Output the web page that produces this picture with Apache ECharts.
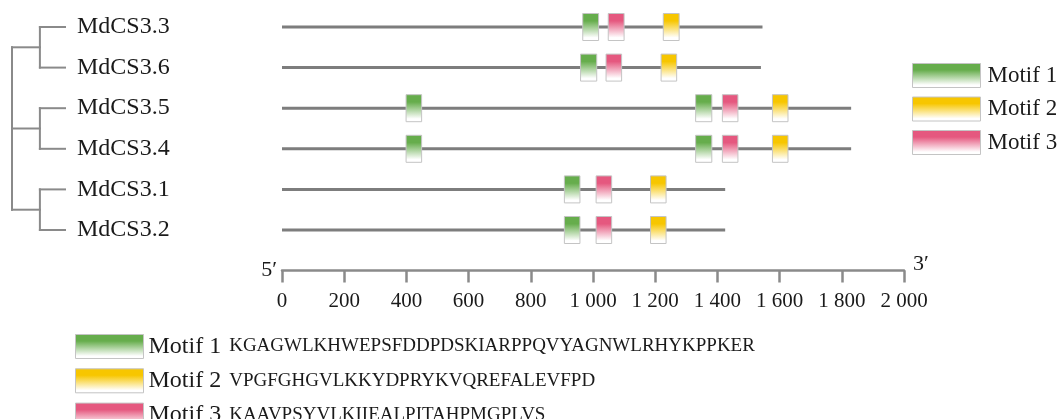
<!DOCTYPE html>
<html>
<head>
<meta charset="utf-8">
<script src="https://cdn.jsdelivr.net/npm/echarts@6/dist/echarts.min.js"></script>
<style>
html,body{margin:0;padding:0;background:#fff;}
#c{width:1062px;height:419px;}
</style>
</head>
<body>
<div id="c"></div>
<script>
// ---------- data ----------
const genes = ['MdCS3.3', 'MdCS3.6', 'MdCS3.5', 'MdCS3.4', 'MdCS3.1', 'MdCS3.2'];
const geneLengths = [1545, 1540, 1830, 1830, 1425, 1425];
// [start, end, row]
const motif1Sites = [[967, 1018, 0], [960, 1012, 1], [399, 449, 2], [1330, 1382, 2], [399, 449, 3], [1330, 1382, 3], [908, 958, 4], [908, 958, 5]];
const motif2Sites = [[1226, 1277, 0], [1219, 1269, 1], [1577, 1627, 2], [1577, 1627, 3], [1185, 1235, 4], [1185, 1235, 5]];
const motif3Sites = [[1049, 1100, 0], [1042, 1092, 1], [1416, 1466, 2], [1416, 1466, 3], [1010, 1060, 4], [1010, 1060, 5]];
const motifNames = ['Motif 1', 'Motif 2', 'Motif 3'];
const motifSeqs = ['KGAGWLKHWEPSFDDPDSKIARPPQVYAGNWLRHYKPPKER', 'VPGFGHGVLKKYDPRYKVQREFALEVFPD', 'KAAVPSYVLKIIEALPITAHPMGPLVS'];
const xTickLabels = ['0', '200', '400', '600', '800', '1 000', '1 200', '1 400', '1 600', '1 800', '2 000'];
// tree: clades of leaf rows, joined at the root
const treeClades = [[0, 1], [2, 3], [4, 5]];
const treeRootDepth = 0, treeNodeDepth = 1, treeLeafDepth = 1.9;

// ---------- styles ----------
const FONT = '"Liberation Serif", "Times New Roman", serif';
const motifColors = ['#66ad4c', '#f7c600', '#e5587f'];
function grad(c) {
  return new echarts.graphic.LinearGradient(0, 0, 0, 1, [
    { offset: 0, color: c }, { offset: 0.28, color: c }, { offset: 0.88, color: '#ffffff' }, { offset: 1, color: '#ffffff' }
  ]);
}

// tree segments (data coordinates)
const treeSegs = [];
const cladeY = [];
treeClades.forEach(rows => {
  const y = rows.reduce((a, b) => a + b, 0) / rows.length;
  cladeY.push(y);
  treeSegs.push([treeNodeDepth, Math.min(...rows), treeNodeDepth, Math.max(...rows)]);
  rows.forEach(r => treeSegs.push([treeNodeDepth, r, treeLeafDepth, r]));
});
treeSegs.push([treeRootDepth, Math.min(...cladeY), treeRootDepth, Math.max(...cladeY)]);
cladeY.forEach(y => treeSegs.push([treeRootDepth, y, treeNodeDepth, y]));

const chart = echarts.init(document.getElementById('c'), null, { renderer: 'canvas' });

function motifSeries(idx, sites) {
  return {
    name: motifNames[idx], type: 'custom', xAxisIndex: 0, yAxisIndex: 0,
    itemStyle: { color: grad(motifColors[idx]) },
    data: sites,
    renderItem: (params, api) => {
      const p1 = api.coord([api.value(0), api.value(2)]);
      const p2 = api.coord([api.value(1), api.value(2)]);
      return {
        type: 'rect',
        shape: { x: p1[0], y: p1[1] - 13.5, width: p2[0] - p1[0], height: 27 },
        style: { fill: grad(motifColors[idx]), stroke: '#c4c4c4', lineWidth: 1 }
      };
    }
  };
}

const grids = [
  { left: 282, width: 622, top: 27, height: 243.6, outerBoundsMode: 'none' },
  { left: 12, width: 53, top: 27, height: 243.6, outerBoundsMode: 'none' },
  { left: 282, width: 622, top: 27, height: 243.6, outerBoundsMode: 'none' }
];

const option = {
  animation: false,
  backgroundColor: '#ffffff',
  grid: grids,
  xAxis: [
    {
      gridIndex: 0, type: 'value', min: 0, max: 2000, interval: 200, position: 'bottom',
      axisLine: { show: true, onZero: false, lineStyle: { color: '#8a8a8a', width: 2.5 } },
      axisTick: { show: true, length: 12, lineStyle: { color: '#8a8a8a', width: 2.5 } },
      splitLine: { show: false },
      axisLabel: {
        margin: 20, color: '#1a1a1a', fontSize: 21, fontFamily: FONT,
        formatter: v => xTickLabels[Math.round(v / 200)]
      },
      name: '5\u2032', nameLocation: 'start', nameGap: 5,
      nameTextStyle: { color: '#1a1a1a', fontSize: 22, fontFamily: FONT, verticalAlign: 'middle' }
    },
    {
      gridIndex: 1, type: 'value', min: treeRootDepth, max: treeLeafDepth, show: false
    },
    {
      gridIndex: 2, type: 'value', min: 0, max: 2000, position: 'bottom',
      axisLine: { show: false, onZero: false }, axisTick: { show: false }, axisLabel: { show: false }, splitLine: { show: false },
      name: '3\u2032', nameLocation: 'end', nameGap: 9,
      nameTextStyle: { color: '#1a1a1a', fontSize: 22, fontFamily: FONT, verticalAlign: 'bottom', lineHeight: 12 }
    }
  ],
  yAxis: [
    { gridIndex: 0, type: 'value', min: 0, max: 6, inverse: true, show: false },
    {
      gridIndex: 1, type: 'value', min: 0, max: 6, interval: 1, inverse: true, position: 'right',
      axisLine: { show: false, onZero: false }, axisTick: { show: false }, splitLine: { show: false },
      axisLabel: {
        margin: 12, color: '#1a1a1a', fontSize: 24, fontFamily: FONT, align: 'left',
        formatter: v => (genes[Math.round(v)] || '')
      }
    },
    { gridIndex: 2, type: 'value', min: 0, max: 6, inverse: true, show: false }
  ],
  legend: [
    {
      orient: 'vertical', left: 912, top: 63, padding: 0, itemGap: 8.5,
      itemWidth: 68, itemHeight: 24, selectedMode: false,
      textStyle: { color: '#1a1a1a', fontSize: 23, fontFamily: FONT, lineHeight: 24, padding: [0, 0, 0, 2] },
      data: motifNames.map((n, i) => ({ name: n, icon: 'rect', itemStyle: { color: grad(motifColors[i]), borderColor: '#c4c4c4', borderWidth: 1 } }))
    },
    {
      orient: 'vertical', left: 75, top: 334, height: 120, padding: 0, itemGap: 9.3,
      itemWidth: 68, itemHeight: 24, selectedMode: false,
      textStyle: {
        color: '#1a1a1a', fontSize: 24, fontFamily: FONT, lineHeight: 24,
        rich: {
          a: { fontSize: 24, fontFamily: FONT, color: '#1a1a1a', lineHeight: 24 },
          b: { fontSize: 19, fontFamily: FONT, color: '#1a1a1a', lineHeight: 24, padding: [0, 0, 0, 8] }
        }
      },
      formatter: name => '{a|' + name + '}{b|' + motifSeqs[motifNames.indexOf(name)] + '}',
      data: motifNames.map((n, i) => ({ name: n, icon: 'rect', itemStyle: { color: grad(motifColors[i]), borderColor: '#c4c4c4', borderWidth: 1 } }))
    }
  ],
  series: [
    {
      name: 'backbone', type: 'custom', xAxisIndex: 0, yAxisIndex: 0,
      data: geneLengths.map((len, i) => [0, len, i]),
      renderItem: (params, api) => {
        const p1 = api.coord([api.value(0), api.value(2)]);
        const p2 = api.coord([api.value(1), api.value(2)]);
        return { type: 'line', shape: { x1: p1[0], y1: p1[1], x2: p2[0], y2: p2[1] }, style: { stroke: '#7d7d7d', lineWidth: 3 } };
      }
    },
    motifSeries(0, motif1Sites),
    motifSeries(1, motif2Sites),
    motifSeries(2, motif3Sites),
    {
      name: 'tree', type: 'custom', xAxisIndex: 1, yAxisIndex: 1,
      data: treeSegs,
      renderItem: (params, api) => {
        const p1 = api.coord([api.value(0), api.value(1)]);
        const p2 = api.coord([api.value(2), api.value(3)]);
        return { type: 'line', shape: { x1: p1[0], y1: p1[1], x2: p2[0], y2: p2[1] }, style: { stroke: '#8a8a8a', lineWidth: 2, lineCap: 'square' } };
      }
    }
  ]
};
chart.setOption(option);
</script>
</body>
</html>
